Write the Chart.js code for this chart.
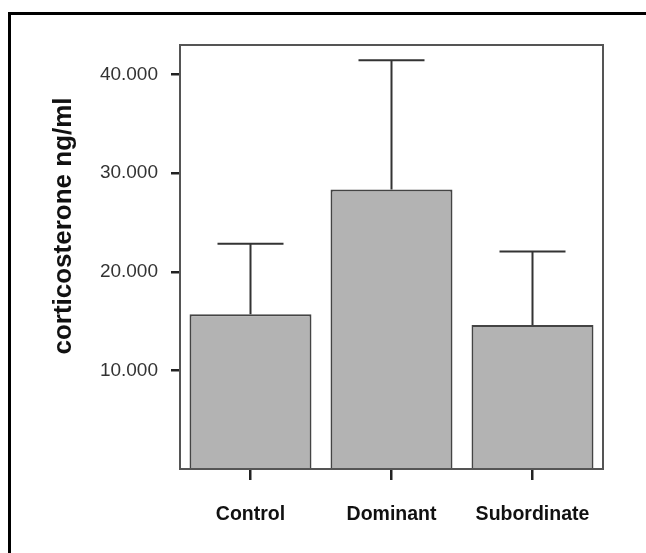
<!DOCTYPE html>
<html lang="en">
<head>
  <meta charset="UTF-8" />
  <title>Corticosterone by group</title>
  <script src="https://cdn.jsdelivr.net/npm/chart.js"></script>
  <style>
    html, body { margin: 0; padding: 0; background: #fff; overflow: hidden; }
    #frame {
      position: absolute;
      left: 8px; top: 12px;
      width: 700px; height: 600px;
      border-left: 3px solid #000;
      border-top: 3px solid #000;
    }
    #chart { position: absolute; left: 0; top: 0; }
  </style>
</head>
<body>
  <div id="frame"></div>
  <canvas id="chart" width="646" height="553"></canvas>

  <script>
    // data
    const groups = ['Control', 'Dominant', 'Subordinate'];
    const means = [15.7, 28.35, 14.6];
    const sd = [7.15, 13.1, 7.45];
    const yTicks = [10, 20, 30, 40];
    const yTitle = 'corticosterone ng/ml';

    const errorBars = {
      id: 'errorBars',
      afterDatasetsDraw(chart) {
        const c = chart.ctx;
        const y = chart.scales.y;
        const meta = chart.getDatasetMeta(0);
        c.save();
        c.strokeStyle = '#333';
        c.lineWidth = 2;
        meta.data.forEach((bar, i) => {
          const top = y.getPixelForValue(means[i] + sd[i]);
          c.beginPath();
          c.moveTo(bar.x, bar.y);
          c.lineTo(bar.x, top);
          c.moveTo(bar.x - 33, top);
          c.lineTo(bar.x + 33, top);
          c.stroke();
        });
        // plot box
        const a = chart.chartArea;
        c.strokeStyle = '#555';
        c.lineWidth = 2;
        c.strokeRect(a.left, a.top, a.right - a.left, a.bottom - a.top);
        // axis title, sits a bit above centre like the original
        c.translate(64, 226);
        c.rotate(-Math.PI / 2);
        c.fillStyle = '#111';
        c.font = 'bold 26px "Liberation Sans", Arial, sans-serif';
        c.textAlign = 'center';
        c.textBaseline = 'middle';
        c.fillText(yTitle, 0, 0);
        c.restore();
      }
    };

    new Chart(document.getElementById('chart'), {
      type: 'bar',
      data: {
        labels: groups,
        datasets: [{
          data: means,
          backgroundColor: '#b3b3b3',
          borderColor: '#444',
          borderWidth: 2,
          categoryPercentage: 1,
          barPercentage: 0.865
        }]
      },
      options: {
        responsive: false,
        animation: false,
        layout: { padding: { top: 45, right: 43, left: 0, bottom: 0 } },
        plugins: { legend: { display: false }, tooltip: { enabled: false } },
        scales: {
          x: {
            grid: { drawOnChartArea: false, offset: false, tickLength: 11, color: '#222', lineWidth: 2.5 },
            border: { display: false },
            ticks: {
              padding: 23,
              color: '#111',
              font: { family: '"Liberation Sans", Arial, sans-serif', size: 19.5, weight: 'bold' }
            },
            afterFit(s) { s.height = 84; }
          },
          y: {
            min: 0,
            max: 43,
            afterBuildTicks(s) { s.ticks = yTicks.map(v => ({ value: v })); },
            grid: { drawOnChartArea: false, tickLength: 9, color: '#222', lineWidth: 2.5 },
            border: { display: false },
            ticks: {
              padding: 13,
              color: '#333',
              font: { family: '"Liberation Sans", Arial, sans-serif', size: 19 },
              callback: v => v.toFixed(3)
            },
            afterFit(s) { s.width = 180; }
          }
        }
      },
      plugins: [errorBars]
    });
  </script>
</body>
</html>
